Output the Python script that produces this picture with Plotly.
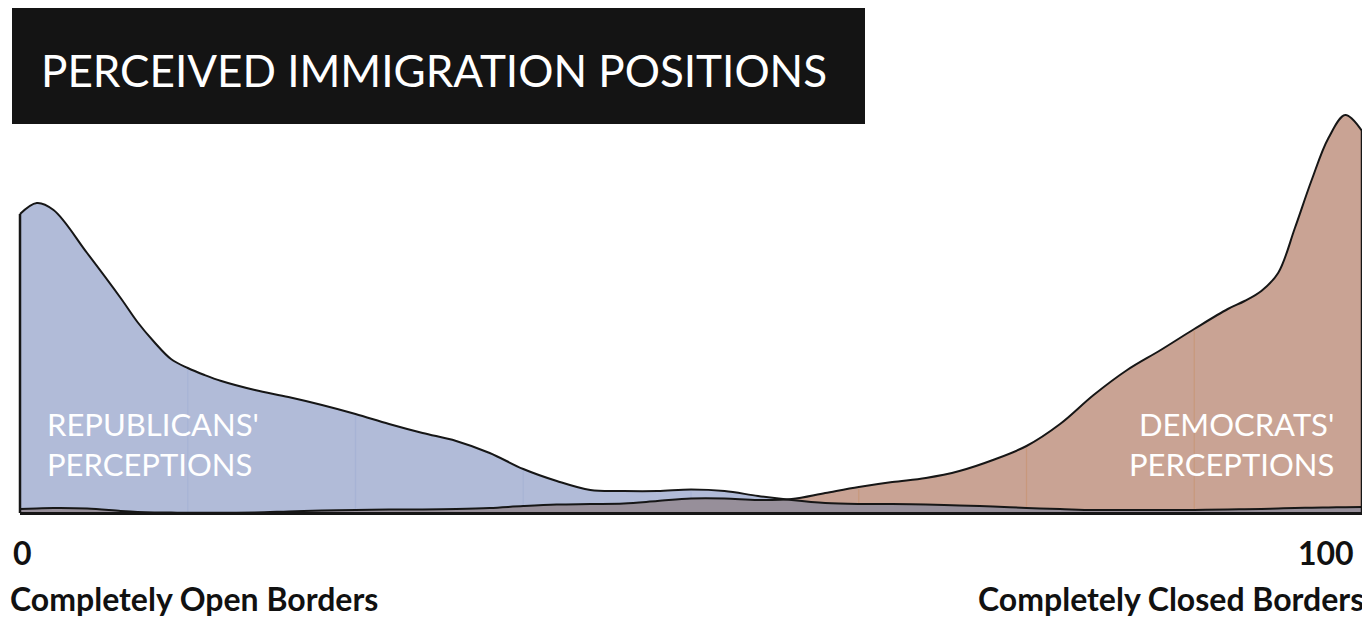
import plotly.graph_objects as go

# ---- data ----
positions = [0, 1.25, 2.5, 5, 7.5, 8.75, 10, 11.25, 12.5, 13.75, 15, 17.5, 20, 22.5, 25, 27.5,
             30, 32.5, 35, 37.5, 40, 42.5, 45, 47.5, 50, 52.5, 55, 57.5, 60, 62.5, 65, 67.5,
             70, 72.5, 75, 77.5, 80, 82.5, 85, 87.5, 90, 91.25, 92.5, 93.75, 95, 96.25, 97.5,
             98.75, 100]
republicans = [2.99, 3.10, 3.03, 2.60, 2.15, 1.91, 1.71, 1.54, 1.45, 1.38, 1.32, 1.23, 1.16,
               1.08, 0.99, 0.89, 0.80, 0.72, 0.60, 0.44, 0.32, 0.23, 0.22, 0.22, 0.235, 0.22,
               0.17, 0.13, 0.10, 0.09, 0.09, 0.085, 0.075, 0.065, 0.05, 0.04, 0.03, 0.03,
               0.03, 0.03, 0.035, 0.037, 0.04, 0.045, 0.05, 0.052, 0.055, 0.058, 0.06]
democrats = [0.04, 0.045, 0.05, 0.045, 0.02, 0.01, 0.005, 0.004, 0.003, 0.003, 0.003, 0.005,
             0.015, 0.025, 0.03, 0.035, 0.035, 0.04, 0.05, 0.07, 0.085, 0.09, 0.095, 0.12,
             0.145, 0.145, 0.13, 0.14, 0.20, 0.26, 0.31, 0.35, 0.42, 0.53, 0.67, 0.89, 1.18,
             1.43, 1.63, 1.84, 2.04, 2.12, 2.22, 2.40, 2.85, 3.33, 3.75, 3.98, 3.82]
grid_positions = [12.5, 25, 37.5, 50, 62.5, 75, 87.5]
tick_labels = ["0", "100"]
end_labels = ["Completely Open Borders", "Completely Closed Borders"]
series_labels = ["REPUBLICANS'<br>PERCEPTIONS", "DEMOCRATS'<br>PERCEPTIONS"]
title_text = "PERCEIVED IMMIGRATION POSITIONS"

# ---- styling / layout ----
OFF = 8                        # page body margin offset
W, H = 1370 - OFF, 618 - OFF
ML, MR, MT, MB = 5, 2, 75, 97
PX0, PX100 = 20, 1362          # reference pixel of position 0 and 100
Y0_PX = 513                    # reference pixel of density 0
PX_PER_Y = 100                 # pixels per density unit

BLUE = "#B1BBD8"
BROWN = "#C9A394"
OVERLAP = "#978F9A"
INK = "#161616"

pw = W - ML - MR
ph = H - MT - MB
ux = (PX100 - PX0) / 100.0
xr = [-(PX0 - OFF - ML) / ux, 100 + (W - MR - (PX100 - OFF)) / ux]
yr = [-(H - MB - (Y0_PX - OFF)) / PX_PER_Y, ((Y0_PX - OFF) - MT) / PX_PER_Y]


def px_x(px):
    return (px - OFF - ML) / pw


def px_y(py):
    return (H - MB - (py - OFF)) / ph


overlap = [min(a, b) for a, b in zip(republicans, democrats)]

fig = go.Figure()
fig.add_trace(go.Scatter(x=positions, y=republicans, fill="tozeroy", fillcolor=BLUE,
                         mode="lines", line=dict(width=0, shape="spline", color=BLUE),
                         hoverinfo="skip"))
fig.add_trace(go.Scatter(x=positions, y=democrats, fill="tozeroy", fillcolor=BROWN,
                         mode="lines", line=dict(width=0, shape="spline", color=BROWN),
                         hoverinfo="skip"))
fig.add_trace(go.Scatter(x=positions, y=overlap, fill="tozeroy", fillcolor=OVERLAP,
                         mode="lines", line=dict(width=0, shape="spline", color=OVERLAP),
                         hoverinfo="skip"))

# faint vertical guide lines inside the filled areas
gx_b, gy_b, gx_r, gy_r = [], [], [], []
for g in grid_positions:
    i = positions.index(g)
    r, d = republicans[i], democrats[i]
    top = max(r, d) - 0.02
    if r >= d:
        gx_b += [g, g, None]
        gy_b += [min(r, d), top, None]
    else:
        gx_r += [g, g, None]
        gy_r += [min(r, d), top, None]
fig.add_trace(go.Scatter(x=gx_b, y=gy_b, mode="lines",
                         line=dict(width=1.2, color="rgba(150,165,210,0.35)"), hoverinfo="skip"))
fig.add_trace(go.Scatter(x=gx_r, y=gy_r, mode="lines",
                         line=dict(width=1.2, color="rgba(200,140,95,0.45)"), hoverinfo="skip"))

# outlines
for s in (republicans, democrats):
    fig.add_trace(go.Scatter(x=positions, y=s, mode="lines",
                             line=dict(width=2, shape="spline", color=INK), hoverinfo="skip"))

shapes = [
    # baseline
    dict(type="line", xref="x", yref="y", x0=positions[0], x1=positions[-1], y0=-0.005, y1=-0.005,
         line=dict(color=INK, width=3), layer="above"),
    # vertical edges
    dict(type="line", xref="x", yref="y", x0=positions[0], x1=positions[0], y0=0,
         y1=max(republicans[0], democrats[0]), line=dict(color=INK, width=2.5), layer="above"),
    dict(type="line", xref="x", yref="y", x0=positions[-1], x1=positions[-1], y0=0,
         y1=max(republicans[-1], democrats[-1]), line=dict(color=INK, width=2.5), layer="above"),
    # title box
    dict(type="rect", xref="paper", yref="paper", x0=px_x(12), x1=px_x(865), y0=px_y(124),
         y1=px_y(8), fillcolor="#141414", line=dict(width=0), layer="above"),
]

FONT = "Lato, 'Open Sans', sans-serif"
annotations = [
    dict(text=title_text, xref="paper", yref="paper", x=px_x(434), y=px_y(70),
         xanchor="center", yanchor="middle", showarrow=False,
         font=dict(family=FONT, size=44, color="white")),
    dict(text=series_labels[0], xref="paper", yref="paper", x=px_x(45), y=px_y(444),
         xanchor="left", yanchor="middle", align="left", showarrow=False,
         font=dict(family=FONT, size=31, color="white")),
    dict(text=series_labels[1], xref="paper", yref="paper", x=px_x(1336), y=px_y(444),
         xanchor="right", yanchor="middle", align="right", showarrow=False,
         font=dict(family=FONT, size=31, color="white")),
    dict(text="<b>%s</b>" % tick_labels[0], xref="paper", yref="paper", x=px_x(11), y=px_y(552),
         xanchor="left", yanchor="middle", showarrow=False,
         font=dict(family=FONT, size=32, color="#111")),
    dict(text="<b>%s</b>" % tick_labels[1], xref="paper", yref="paper", x=px_x(1356), y=px_y(552),
         xanchor="right", yanchor="middle", showarrow=False,
         font=dict(family=FONT, size=32, color="#111")),
    dict(text="<b>%s</b>" % end_labels[0], xref="paper", yref="paper", x=px_x(8), y=px_y(598),
         xanchor="left", yanchor="middle", showarrow=False,
         font=dict(family=FONT, size=32, color="#111")),
    dict(text="<b>%s</b>" % end_labels[1], xref="paper", yref="paper", x=px_x(1366), y=px_y(598),
         xanchor="right", yanchor="middle", showarrow=False,
         font=dict(family=FONT, size=32, color="#111")),
]

fig.update_layout(
    width=W, height=H, margin=dict(l=ML, r=MR, t=MT, b=MB),
    paper_bgcolor="white", plot_bgcolor="white", showlegend=False,
    xaxis=dict(range=xr, visible=False, fixedrange=True),
    yaxis=dict(range=yr, visible=False, fixedrange=True),
    shapes=shapes, annotations=annotations,
)

fig.write_html("out.html")
